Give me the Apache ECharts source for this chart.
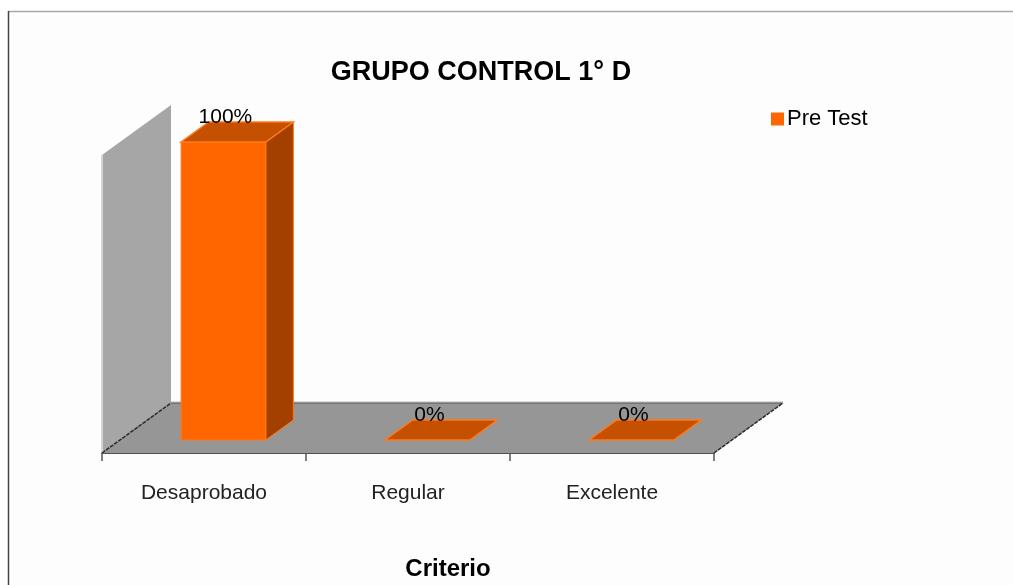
<!DOCTYPE html>
<html>
<head>
<meta charset="utf-8">
<script src="https://cdn.jsdelivr.net/npm/echarts@6/dist/echarts.min.js"></script>
<style>
  html, body { margin: 0; padding: 0; background: #ffffff; }
  #chart { width: 1013px; height: 585px; }
</style>
</head>
<body>
<div id="chart"></div>
<script>
// ---- data ----
const categories = ['Desaprobado', 'Regular', 'Excelente'];
const preTest = [100, 0, 0];
const seriesName = 'Pre Test';
const titleText = 'GRUPO CONTROL 1° D';
const axisTitle = 'Criterio';

// ---- style constants ----
const FONT = '"Liberation Sans", Arial, sans-serif';
const DEPTH_X = 69, DEPTH_Y = 50;      // floor depth in px
const BAR_FRONT = 0.26, BAR_BACK = 0.66; // bar position within depth
const BAR_RATIO = 0.415;

const chart = echarts.init(document.getElementById('chart'), null, { renderer: 'canvas' });

function floorRender(params, api) {
  const cs = params.coordSys;
  const x0 = cs.x, x1 = cs.x + cs.width, yb = cs.y + cs.height, yt = cs.y;
  return {
    type: 'group',
    children: [
      // left wall
      { type: 'polygon', shape: { points: [[x0, yb], [x0, yt], [x0 + DEPTH_X, yt - DEPTH_Y], [x0 + DEPTH_X, yb - DEPTH_Y]] },
        style: { fill: '#a6a6a6', stroke: null } },
      { type: 'line', shape: { x1: x0, y1: yb, x2: x0, y2: yt }, style: { stroke: '#d4d4d4', lineWidth: 2 } },
      // floor
      { type: 'polygon', shape: { points: [[x0, yb], [x1, yb], [x1 + DEPTH_X, yb - DEPTH_Y], [x0 + DEPTH_X, yb - DEPTH_Y]] },
        style: { fill: '#969696', stroke: null } },
      { type: 'line', shape: { x1: x0 + DEPTH_X, y1: yb - DEPTH_Y - 1, x2: x1 + DEPTH_X, y2: yb - DEPTH_Y - 1 }, style: { stroke: '#cfcfcf', lineWidth: 1.5 } },
      { type: 'line', shape: { x1: x0 + DEPTH_X, y1: yb - DEPTH_Y, x2: x1 + DEPTH_X, y2: yb - DEPTH_Y }, style: { stroke: '#555555', lineWidth: 1 } },
      { type: 'line', shape: { x1: x0, y1: yb, x2: x0 + DEPTH_X, y2: yb - DEPTH_Y }, style: { stroke: '#2a2a2a', lineWidth: 1.5, lineDash: [4, 1] } },
      { type: 'line', shape: { x1: x1, y1: yb, x2: x1 + DEPTH_X, y2: yb - DEPTH_Y }, style: { stroke: '#2a2a2a', lineWidth: 1.5, lineDash: [4, 1] } }
    ]
  };
}

function barRender(params, api) {
  const cat = api.value(0), v = api.value(1);
  const base = api.coord([cat, 0]);
  const top = api.coord([cat, v]);
  const bw = api.size([1, 0])[0] * BAR_RATIO;
  const fx0 = base[0] + DEPTH_X * BAR_FRONT - bw / 2 + 1.5;
  const fx1 = fx0 + bw;
  const fyB = base[1] - DEPTH_Y * BAR_FRONT;
  const fyT = top[1] - DEPTH_Y * BAR_FRONT;
  const ddx = DEPTH_X * (BAR_BACK - BAR_FRONT), ddy = DEPTH_Y * (BAR_BACK - BAR_FRONT);
  const edge = '#ff7a1a';
  const children = [];
  if (fyB - fyT > 0.5) {
    children.push({ type: 'polygon', shape: { points: [[fx1, fyB], [fx1, fyT], [fx1 + ddx, fyT - ddy], [fx1 + ddx, fyB - ddy]] },
      style: { fill: '#a34000', stroke: edge, lineWidth: 1 } });
    children.push({ type: 'rect', shape: { x: fx0, y: fyT, width: bw, height: fyB - fyT },
      style: { fill: '#ff6600', stroke: edge, lineWidth: 1 } });
  }
  children.push({ type: 'polygon', shape: { points: [[fx0, fyT], [fx1, fyT], [fx1 + ddx, fyT - ddy], [fx0 + ddx, fyT - ddy]] },
    style: { fill: '#c45000', stroke: edge, lineWidth: 1.5 } });
  children.push({ type: 'text', style: { text: v + '%', x: fx0 + bw / 2 + 2, y: fyT - ddy + 6,
    align: 'center', verticalAlign: 'bottom', fill: '#000', font: '21px ' + FONT } });
  return { type: 'group', children };
}

chart.setOption({
  backgroundColor: '#ffffff',
  animation: false,
  title: [
    { text: titleText, left: 476, top: 54, textAlign: 'center',
      textStyle: { fontFamily: FONT, fontWeight: 'bold', fontSize: 27, color: '#000' } },
    { text: axisTitle, left: 443, top: 552, textAlign: 'center',
      textStyle: { fontFamily: FONT, fontWeight: 'bold', fontSize: 24, color: '#000' } }
  ],
  legend: {
    data: [{ name: seriesName, icon: 'rect' }],
    left: 766, top: 103, itemWidth: 13, itemHeight: 13, itemGap: 5,
    textStyle: { fontFamily: FONT, fontSize: 22, color: '#000', padding: [0, 0, 0, -2] }
  },
  graphic: [
    { type: 'rect', shape: { x: 8, y: 11, width: 1010, height: 580 }, style: { fill: '#fdfdfd' }, z: -10 },
    { type: 'line', shape: { x1: 8, y1: 11.5, x2: 1013, y2: 11.5 }, style: { stroke: '#a8a8a8', lineWidth: 1.5 }, z: -9 },
    { type: 'line', shape: { x1: 8.5, y1: 11, x2: 8.5, y2: 585 }, style: { stroke: '#444444', lineWidth: 1.5 }, z: -9 }
  ],
  grid: { left: 102, top: 155, width: 612, height: 298, containLabel: false },
  xAxis: {
    type: 'category', data: categories,
    axisLine: { show: true, lineStyle: { color: '#1a1a1a', width: 1.5 } },
    axisTick: { show: true, length: 8, lineStyle: { color: '#555', width: 1.5 } },
    axisLabel: { margin: 30, fontFamily: FONT, fontSize: 21, color: '#222' },
    splitLine: { show: false }
  },
  yAxis: { type: 'value', min: 0, max: 100, show: false, splitLine: { show: false } },
  series: [
    { type: 'custom', name: '_floor', renderItem: floorRender, data: [[0, 0]], silent: true, z: 1 },
    { type: 'custom', name: seriesName, renderItem: barRender, itemStyle: { color: '#ff6600' },
      data: categories.map((c, i) => [i, preTest[i]]), z: 2 }
  ]
});
</script>
</body>
</html>
